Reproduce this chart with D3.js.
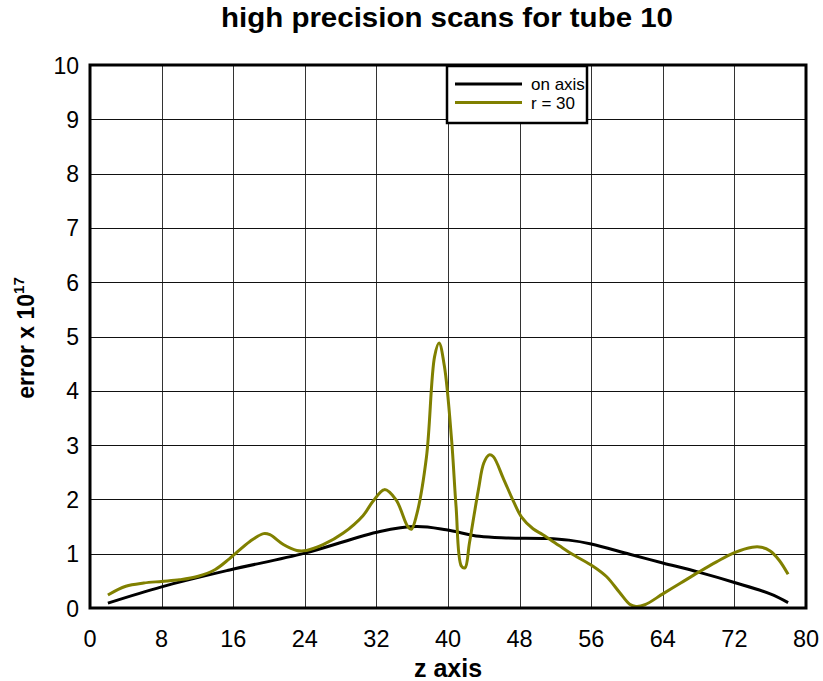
<!DOCTYPE html>
<html><head><meta charset="utf-8">
<script src="https://cdn.jsdelivr.net/npm/d3@7"></script>
<style>body{margin:0;background:#fff;} svg{display:block;font-family:"Liberation Sans",Arial,Helvetica,sans-serif;}</style>
</head><body><svg id="c" width="823" height="681"></svg>
<script>
const xTicks = [0,8,16,24,32,40,48,56,64,72,80];
const yTicks = [0,1,2,3,4,5,6,7,8,9,10];
const onAxisX = [2,8,15.6,24,32.4,36.5,39.8,43.5,46.5,51,53.5,56,60.3,64,68,72,76,78];
const onAxisY = [0.09,0.39,0.70,1.01,1.41,1.5,1.44,1.32,1.29,1.28,1.25,1.18,0.99,0.83,0.66,0.47,0.26,0.1];
const r30X = [2,4,6,8,10,12,14,15.6,17.9,19.4,20.1,21.6,23.1,24.2,26.1,28.3,30.5,31.6,32.9,34.2,35.5,35.9,36.5,37.6,38.5,39.0,39.6,40.4,40.9,41.5,41.9,42.4,43.4,44.0,44.6,45.05,46.2,47.3,48.2,49.5,50.6,52.5,54,56.2,57.7,59.2,60.3,61,62,64,66,68,70,72,74,75,76,77,78];
const r30Y = [0.24,0.40,0.46,0.49,0.52,0.58,0.71,0.91,1.23,1.37,1.35,1.17,1.06,1.06,1.17,1.38,1.70,1.96,2.18,1.99,1.50,1.45,1.72,2.79,4.63,4.88,4.45,3.10,1.87,0.77,0.74,1.2,2.18,2.67,2.82,2.79,2.38,1.97,1.68,1.46,1.35,1.14,0.98,0.77,0.58,0.28,0.07,0.03,0.06,0.26,0.46,0.66,0.85,1.02,1.12,1.12,1.05,0.88,0.62];
const seriesNames = ["on axis","r = 30"];
const seriesColors = ["#000000","#808000"];

const svg = d3.select("#c");
const L=90, R=806, T=65, B=608;
const x = d3.scaleLinear().domain([0,80]).range([L,R]);
const y = d3.scaleLinear().domain([0,10]).range([B,T]);

// grid
const g = svg.append("g");
g.selectAll("line.v").data(xTicks.slice(1,-1)).enter().append("line")
  .attr("x1",d=>Math.round(x(d))+0.5).attr("x2",d=>Math.round(x(d))+0.5).attr("y1",T).attr("y2",B)
  .attr("stroke","#333").attr("stroke-width",1);
g.selectAll("line.h").data(yTicks.slice(1,-1)).enter().append("line")
  .attr("y1",d=>Math.round(y(d))+0.5).attr("y2",d=>Math.round(y(d))+0.5).attr("x1",L).attr("x2",R)
  .attr("stroke","#111").attr("stroke-width",1);

// tick labels
svg.append("g").selectAll("text").data(yTicks).enter().append("text")
  .attr("x",79).attr("y",d=>y(d)+8.5).attr("text-anchor","end")
  .attr("font-size",23).text(d=>d);
svg.append("g").selectAll("text").data(xTicks).enter().append("text")
  .attr("x",d=>x(d)).attr("y",647).attr("text-anchor","middle")
  .attr("font-size",23.5).text(d=>d);

// lines
const line = d3.line().x(d=>x(d[0])).y(d=>y(d[1])).curve(d3.curveCatmullRom.alpha(0.5));
svg.append("path").datum(d3.zip(onAxisX,onAxisY)).attr("d",line)
  .attr("fill","none").attr("stroke",seriesColors[0]).attr("stroke-width",3);
svg.append("path").datum(d3.zip(r30X,r30Y)).attr("d",line)
  .attr("fill","none").attr("stroke",seriesColors[1]).attr("stroke-width",3);

// frame
svg.append("rect").attr("x",L).attr("y",T).attr("width",R-L).attr("height",B-T)
  .attr("fill","none").attr("stroke","#000").attr("stroke-width",3);

// legend
const lg = svg.append("g");
lg.append("rect").attr("x",447).attr("y",66).attr("width",140).attr("height",57)
  .attr("fill","#fff").attr("stroke","#000").attr("stroke-width",2.5);
seriesNames.forEach((n,i)=>{
  const yy = 84 + i*18.5;
  lg.append("line").attr("x1",455).attr("x2",522).attr("y1",yy).attr("y2",yy)
    .attr("stroke",seriesColors[i]).attr("stroke-width",3);
  lg.append("text").attr("x",531).attr("y",yy+6).attr("font-size",17).text(n);
});

// title and axis labels
svg.append("text").attr("x",447).attr("y",27).attr("text-anchor","middle")
  .attr("font-size",27).attr("font-weight","bold")
  .attr("textLength",452).attr("lengthAdjust","spacingAndGlyphs")
  .text("high precision scans for tube 10");
svg.append("text").attr("x",448).attr("y",677).attr("text-anchor","middle")
  .attr("font-size",25).attr("font-weight","bold").text("z axis");
const yl = svg.append("text").attr("transform","translate(34,338) rotate(-90)")
  .attr("text-anchor","middle").attr("font-size",23).attr("font-weight","bold");
yl.append("tspan").text("error x 10");
yl.append("tspan").attr("font-size",15).attr("dy",-10).text("17");
</script></body></html>
